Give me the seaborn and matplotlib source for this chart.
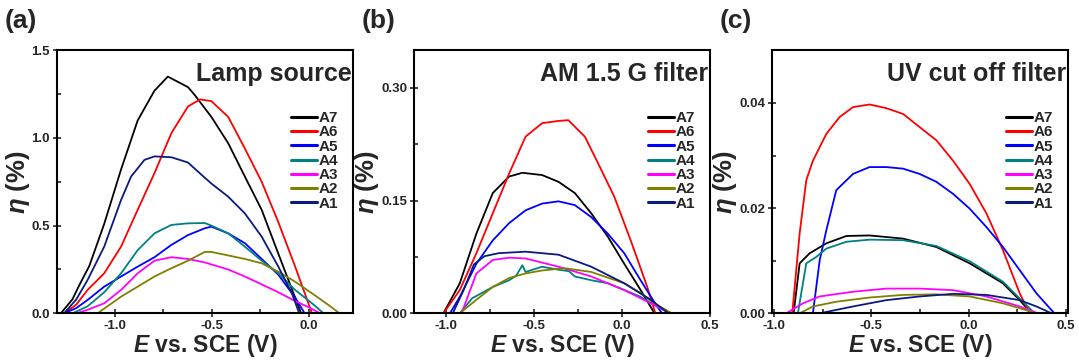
import matplotlib
matplotlib.use('Agg')
import matplotlib.pyplot as plt
from matplotlib.ticker import MultipleLocator
import pandas as pd
import seaborn as sns

sns.set_theme(style='ticks')
plt.rcParams['font.family'] = ['Liberation Sans', 'DejaVu Sans']
plt.rcParams['font.weight'] = 'bold'
plt.rcParams['axes.labelweight'] = 'bold'
plt.rcParams['mathtext.fontset'] = 'custom'
plt.rcParams['mathtext.it'] = 'Liberation Sans:bold:italic'
plt.rcParams['mathtext.rm'] = 'Liberation Sans:bold'
plt.rcParams['mathtext.bf'] = 'Liberation Sans:bold'

# series order as in legend
samples = ['A7', 'A6', 'A5', 'A4', 'A3', 'A2', 'A1']
colors = ['#000000', '#ff0000', '#0000ff', '#008080', '#ff00ff', '#808000', '#0a1a80']

# (a) lamp source: (E [V vs SCE], eta [%])
lamp_A7 = [(-1.28, 0), (-1.22, 0.08), (-1.185, 0.16), (-1.133, 0.27), (-1.056, 0.51), (-0.969, 0.82),
           (-0.883, 1.10), (-0.796, 1.27), (-0.727, 1.35), (-0.623, 1.29), (-0.588, 1.245), (-0.502, 1.12),
           (-0.415, 0.97), (-0.329, 0.78), (-0.242, 0.59), (-0.156, 0.34), (-0.104, 0.19), (-0.038, 0)]
lamp_A6 = [(-1.263, 0), (-1.2, 0.05), (-1.142, 0.133), (-1.056, 0.228), (-0.969, 0.38), (-0.883, 0.59),
           (-0.796, 0.80), (-0.709, 1.027), (-0.623, 1.18), (-0.56, 1.22), (-0.502, 1.21), (-0.415, 1.12),
           (-0.329, 0.94), (-0.242, 0.75), (-0.156, 0.52), (-0.069, 0.266), (0.018, 0)]
lamp_A5 = [(-1.263, 0), (-1.2, 0.03), (-1.142, 0.076), (-1.056, 0.152), (-0.969, 0.21), (-0.883, 0.266),
           (-0.796, 0.32), (-0.709, 0.39), (-0.623, 0.446), (-0.536, 0.485), (-0.502, 0.494), (-0.415, 0.456),
           (-0.329, 0.40), (-0.242, 0.31), (-0.156, 0.22), (-0.069, 0.09), (-0.02, 0)]
lamp_A4 = [(-1.22, 0), (-1.142, 0.04), (-1.056, 0.12), (-0.969, 0.228), (-0.883, 0.36), (-0.796, 0.456),
           (-0.709, 0.504), (-0.623, 0.513), (-0.536, 0.515), (-0.502, 0.50), (-0.415, 0.456), (-0.329, 0.38),
           (-0.242, 0.30), (-0.156, 0.228), (-0.069, 0.133), (0.018, 0.057), (0.078, 0)]
lamp_A3 = [(-1.2, 0), (-1.142, 0.02), (-1.056, 0.057), (-0.969, 0.133), (-0.883, 0.228), (-0.796, 0.30),
           (-0.709, 0.32), (-0.623, 0.31), (-0.536, 0.29), (-0.415, 0.25), (-0.329, 0.21), (-0.242, 0.165),
           (-0.156, 0.12), (-0.069, 0.07), (0.0, 0.035), (0.06, 0)]
lamp_A2 = [(-1.09, 0), (-0.969, 0.095), (-0.883, 0.152), (-0.796, 0.21), (-0.709, 0.257), (-0.623, 0.30),
           (-0.536, 0.35), (-0.502, 0.35), (-0.415, 0.33), (-0.329, 0.31), (-0.242, 0.285), (-0.156, 0.237),
           (-0.069, 0.18), (0.018, 0.114), (0.104, 0.047), (0.16, 0)]
lamp_A1 = [(-1.263, 0), (-1.2, 0.08), (-1.142, 0.19), (-1.056, 0.38), (-0.969, 0.646), (-0.917, 0.78),
           (-0.848, 0.875), (-0.796, 0.895), (-0.709, 0.89), (-0.623, 0.86), (-0.553, 0.79), (-0.502, 0.74),
           (-0.415, 0.665), (-0.329, 0.57), (-0.242, 0.437), (-0.156, 0.266), (-0.086, 0.114), (-0.048, 0)]

# (b) AM 1.5 G filter
am_A7 = [(-1.013, 0), (-0.92, 0.04), (-0.826, 0.106), (-0.733, 0.16), (-0.64, 0.182), (-0.565, 0.187),
         (-0.453, 0.184), (-0.36, 0.175), (-0.267, 0.16), (-0.174, 0.133), (-0.08, 0.102), (0.013, 0.066),
         (0.106, 0.031), (0.185, 0)]
am_A6 = [(-1.013, 0), (-0.92, 0.031), (-0.826, 0.08), (-0.733, 0.133), (-0.64, 0.186), (-0.547, 0.235),
         (-0.453, 0.253), (-0.36, 0.256), (-0.304, 0.257), (-0.21, 0.235), (-0.136, 0.2), (-0.043, 0.155),
         (0.05, 0.097), (0.144, 0.035), (0.19, 0)]
am_A5 = [(-0.976, 0), (-0.92, 0.022), (-0.826, 0.066), (-0.733, 0.097), (-0.64, 0.12), (-0.547, 0.137),
         (-0.453, 0.146), (-0.36, 0.149), (-0.267, 0.144), (-0.174, 0.128), (-0.08, 0.106), (0.013, 0.08),
         (0.106, 0.044), (0.2, 0.009), (0.228, 0)]
am_A4 = [(-0.92, 0), (-0.85, 0.02), (-0.733, 0.035), (-0.64, 0.044), (-0.6, 0.05), (-0.565, 0.064),
         (-0.547, 0.055), (-0.453, 0.062), (-0.36, 0.058), (-0.3, 0.056), (-0.267, 0.049), (-0.174, 0.044),
         (-0.08, 0.04), (0.013, 0.031), (0.106, 0.022), (0.2, 0.009), (0.274, 0)]
am_A3 = [(-0.91, 0), (-0.826, 0.053), (-0.733, 0.071), (-0.64, 0.074), (-0.547, 0.073), (-0.36, 0.062),
         (-0.174, 0.049), (0.013, 0.031), (0.2, 0.009), (0.274, 0)]
am_A2 = [(-0.92, 0), (-0.826, 0.018), (-0.733, 0.035), (-0.64, 0.047), (-0.547, 0.053), (-0.453, 0.057),
         (-0.325, 0.06), (-0.174, 0.055), (0.013, 0.04), (0.106, 0.027), (0.2, 0.011), (0.284, 0)]
am_A1 = [(-0.96, 0), (-0.9, 0.03), (-0.84, 0.065), (-0.78, 0.076), (-0.7, 0.08), (-0.547, 0.082),
         (-0.36, 0.078), (-0.174, 0.062), (0.013, 0.04), (0.163, 0.018), (0.265, 0)]

# (c) UV cut off filter
uv_A7 = [(-0.899, 0), (-0.868, 0.0095), (-0.817, 0.0114), (-0.731, 0.0133), (-0.628, 0.0147), (-0.509, 0.0148),
         (-0.337, 0.0142), (-0.166, 0.0126), (0.005, 0.0095), (0.176, 0.0057), (0.262, 0.0025), (0.322, 0)]
uv_A6 = [(-0.906, 0), (-0.868, 0.0152), (-0.834, 0.0253), (-0.8, 0.029), (-0.731, 0.0341), (-0.663, 0.0373),
         (-0.594, 0.0392), (-0.509, 0.0397), (-0.423, 0.039), (-0.337, 0.0379), (-0.252, 0.0354),
         (-0.166, 0.0329), (-0.08, 0.029), (0.005, 0.0246), (0.091, 0.019), (0.176, 0.012), (0.262, 0.0038),
         (0.313, 0)]
uv_A5 = [(-0.8, 0), (-0.765, 0.0101), (-0.731, 0.0158), (-0.68, 0.0234), (-0.594, 0.0265), (-0.509, 0.0278),
         (-0.423, 0.0278), (-0.337, 0.0275), (-0.252, 0.0265), (-0.166, 0.025), (-0.08, 0.0227),
         (0.005, 0.0199), (0.091, 0.0164), (0.176, 0.0126), (0.262, 0.0082), (0.348, 0.0038), (0.44, 0)]
uv_A4 = [(-0.877, 0), (-0.834, 0.0095), (-0.783, 0.0107), (-0.731, 0.0123), (-0.628, 0.0136), (-0.509, 0.014),
         (-0.337, 0.0139), (-0.166, 0.0128), (0.005, 0.0099), (0.176, 0.006), (0.262, 0.0028), (0.339, 0)]
uv_A3 = [(-0.937, 0), (-0.851, 0.0019), (-0.765, 0.0032), (-0.594, 0.0041), (-0.423, 0.0047), (-0.252, 0.0047),
         (-0.08, 0.0044), (0.091, 0.0032), (0.262, 0.0013), (0.356, 0)]
uv_A2 = [(-0.868, 0), (-0.8, 0.0013), (-0.68, 0.0022), (-0.509, 0.003), (-0.337, 0.0035), (-0.166, 0.0036),
         (0.005, 0.0032), (0.176, 0.0019), (0.296, 0.0006), (0.348, 0)]
uv_A1 = [(-0.765, 0), (-0.594, 0.0013), (-0.423, 0.0025), (-0.252, 0.0032), (-0.08, 0.0037), (0.091, 0.0035),
         (0.262, 0.0025), (0.348, 0.0013), (0.425, 0)]

panels = [
    ('(a)', 'Lamp source', [lamp_A7, lamp_A6, lamp_A5, lamp_A4, lamp_A3, lamp_A2, lamp_A1]),
    ('(b)', 'AM 1.5 G filter', [am_A7, am_A6, am_A5, am_A4, am_A3, am_A2, am_A1]),
    ('(c)', 'UV cut off filter', [uv_A7, uv_A6, uv_A5, uv_A4, uv_A3, uv_A2, uv_A1]),
]
xlims = [(-1.3, 0.23), (-1.18, 0.5), (-1.01, 0.51)]
ylims = [(0, 1.5), (0, 0.35), (0, 0.05)]
yticks = [[0.0, 0.5, 1.0, 1.5], [0.0, 0.15, 0.30], [0.0, 0.02, 0.04]]
yfmt = ['{:.1f}', '{:.2f}', '{:.2f}']
yminor = [0.25, 0.075, 0.01]
xticks = [[-1.0, -0.5, 0.0], [-1.0, -0.5, 0.0, 0.5], [-1.0, -0.5, 0.0, 0.5]]

fig = plt.figure(figsize=(10.79, 3.64), dpi=100)
lefts = [57, 414, 772]
for i, (tag, title, series) in enumerate(panels):
    ax = fig.add_axes([lefts[i] / 1079, 1 - 313.3 / 364, 296 / 1079, 263 / 364])
    for name, col, pts in zip(samples, colors, series):
        df = pd.DataFrame(pts, columns=['E', 'eta'])
        sns.lineplot(data=df, x='E', y='eta', ax=ax, color=col, lw=1.3, label=name,
                     sort=False, estimator=None)
    ax.set_xlim(*xlims[i])
    ax.set_ylim(*ylims[i])
    ax.set_xticks(xticks[i])
    ax.set_xticklabels(['{:.1f}'.format(v) for v in xticks[i]])
    ax.set_yticks(yticks[i])
    ax.set_yticklabels([yfmt[i].format(v) for v in yticks[i]])
    ax.xaxis.set_minor_locator(MultipleLocator(0.25))
    ax.yaxis.set_minor_locator(MultipleLocator(yminor[i]))
    ax.tick_params(which='major', direction='inout', length=6, width=1.2, labelsize=9.5, pad=2)
    ax.tick_params(which='minor', direction='in', length=3, width=1.2)
    for s in ax.spines.values():
        s.set_linewidth(1.5)
        s.set_color('black')
    ax.set_xlabel('$E$ vs. SCE (V)', fontsize=16.5, labelpad=0)
    ax.set_ylabel(r'$\eta$ (%)', fontsize=18.5, labelpad=0)
    ax.text(0.995, 0.955, title, transform=ax.transAxes, ha='right', va='top',
            fontsize=18, fontweight='bold')
    leg = ax.legend(loc='upper right', bbox_to_anchor=(0.985, 0.81), frameon=False,
                    fontsize=11, handlelength=1.7, handletextpad=0.1,
                    labelspacing=0.02, borderpad=0.2)
    for h in leg.get_lines():
        h.set_linewidth(2.2)
    fig.text((lefts[i] - 52) / 1079, 1 - 21 / 364, tag, fontsize=19, fontweight='bold',
             va='center', ha='left')

fig.savefig('out.png', dpi=100)
